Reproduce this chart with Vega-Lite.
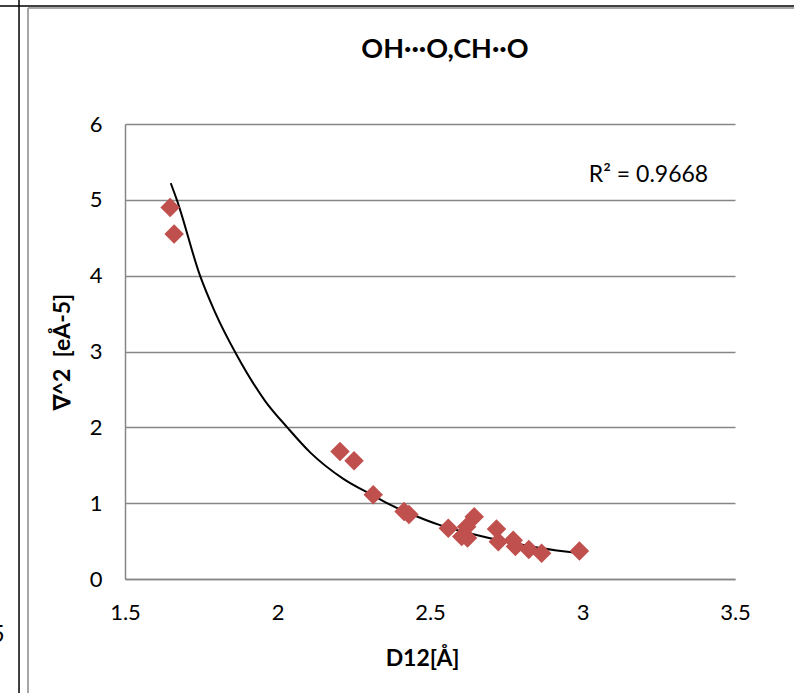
{
  "$schema": "https://vega.github.io/schema/vega-lite/v6.json",
  "width": 610,
  "height": 455,
  "autosize": {"type": "none"},
  "padding": {"left": 125, "top": 124, "right": 59, "bottom": 114},
  "background": "white",
  "config": {
    "view": {"stroke": null},
    "font": "Lato",
    "axis": {"labelFont": "Lato", "titleFont": "Lato"}
  },
  "datasets": {
    "points": [
      {"d": 1.648, "v": 4.90},
      {"d": 1.661, "v": 4.55},
      {"d": 2.205, "v": 1.68},
      {"d": 2.251, "v": 1.56},
      {"d": 2.314, "v": 1.11},
      {"d": 2.415, "v": 0.89},
      {"d": 2.431, "v": 0.85},
      {"d": 2.560, "v": 0.67},
      {"d": 2.604, "v": 0.56},
      {"d": 2.620, "v": 0.69},
      {"d": 2.623, "v": 0.54},
      {"d": 2.645, "v": 0.82},
      {"d": 2.718, "v": 0.66},
      {"d": 2.724, "v": 0.49},
      {"d": 2.773, "v": 0.51},
      {"d": 2.780, "v": 0.43},
      {"d": 2.824, "v": 0.39},
      {"d": 2.866, "v": 0.34},
      {"d": 2.990, "v": 0.37}
    ],
    "trend": [
      {"d": 1.650, "v": 5.22},
      {"d": 1.670, "v": 5.00},
      {"d": 1.746, "v": 4.00},
      {"d": 1.795, "v": 3.52},
      {"d": 1.864, "v": 2.97},
      {"d": 1.959, "v": 2.35},
      {"d": 2.034, "v": 1.99},
      {"d": 2.107, "v": 1.67},
      {"d": 2.216, "v": 1.32},
      {"d": 2.314, "v": 1.10},
      {"d": 2.374, "v": 0.97},
      {"d": 2.424, "v": 0.88},
      {"d": 2.533, "v": 0.71},
      {"d": 2.642, "v": 0.59},
      {"d": 2.751, "v": 0.49},
      {"d": 2.861, "v": 0.41},
      {"d": 2.992, "v": 0.34}
    ],
    "frame": [
      {"kind": "blackV", "a": 1.1525, "b": -1.51, "a2": 1.1525, "b2": 7.64},
      {"kind": "blackH", "a": 1.09, "b": 7.556, "a2": 3.70, "b2": 7.556},
      {"kind": "greyV", "a": 1.182, "b": -1.51, "a2": 1.182, "b2": 7.53},
      {"kind": "greyH", "a": 1.182, "b": 7.53, "a2": 3.70, "b2": 7.53}
    ],
    "notes": [
      {"label": "R² = 0.9668", "d": 3.2164, "v": 5.33},
      {"label": "5", "d": 1.083, "v": -0.74}
    ],
    "heading": [
      {"label": "OH···O,CH··O", "d": 2.549, "v": 6.871}
    ]
  },
  "layer": [
    {
      "data": {"name": "frame"},
      "transform": [{"filter": "datum.kind == 'greyV' || datum.kind == 'greyH'"}],
      "mark": {"type": "rule", "color": "#a6a6a6", "strokeWidth": 2},
      "encoding": {
        "x": {"field": "a", "type": "quantitative", "scale": {"domain": [1.5, 3.5], "nice": false, "zero": false}},
        "y": {"field": "b", "type": "quantitative", "scale": {"domain": [0, 6], "nice": false, "zero": false}},
        "x2": {"field": "a2"},
        "y2": {"field": "b2"}
      }
    },
    {
      "data": {"name": "frame"},
      "transform": [{"filter": "datum.kind == 'blackV' || datum.kind == 'blackH'"}],
      "mark": {"type": "rule", "color": "#000000", "strokeWidth": 1.5},
      "encoding": {
        "x": {"field": "a", "type": "quantitative"},
        "y": {"field": "b", "type": "quantitative"},
        "x2": {"field": "a2"},
        "y2": {"field": "b2"}
      }
    },
    {
      "data": {"name": "trend"},
      "mark": {"type": "line", "color": "#000000", "strokeWidth": 2, "interpolate": "monotone"},
      "encoding": {
        "x": {
          "field": "d", "type": "quantitative",
          "axis": {
            "title": "D12[Å]",
            "values": [1.5, 2, 2.5, 3, 3.5],
            "format": ".1~f",
            "grid": false,
            "ticks": false,
            "domain": true,
            "domainColor": "#868686",
            "domainWidth": 1.5,
            "labelFontSize": 22,
            "labelColor": "#000000",
            "labelPadding": 23,
            "labelFlush": false,
            "titleFontSize": 23,
            "titleFontWeight": "bold",
            "titleColor": "#000000",
            "titlePadding": 24,
            "titleX": 297
          }
        },
        "y": {
          "field": "v", "type": "quantitative",
          "axis": {
            "title": "∇^2\u00a0 [eÅ-5]",
            "values": [0, 1, 2, 3, 4, 5, 6],
            "format": "d",
            "grid": true,
            "gridColor": "#868686",
            "gridWidth": 1.5,
            "ticks": false,
            "domain": true,
            "domainColor": "#868686",
            "domainWidth": 1.5,
            "labelFontSize": 22,
            "labelColor": "#000000",
            "labelPadding": 23,
            "titleFontSize": 23,
            "titleFontWeight": "bold",
            "titleColor": "#000000",
            "titlePadding": 15
          }
        }
      }
    },
    {
      "data": {"name": "points"},
      "mark": {"type": "point", "shape": "diamond", "filled": true, "color": "#C0504D", "opacity": 1, "size": 380},
      "encoding": {
        "x": {"field": "d", "type": "quantitative"},
        "y": {"field": "v", "type": "quantitative"}
      }
    },
    {
      "data": {"name": "notes"},
      "mark": {"type": "text", "font": "Lato", "fontSize": 23, "color": "#000000", "align": "center", "baseline": "middle"},
      "encoding": {
        "x": {"field": "d", "type": "quantitative"},
        "y": {"field": "v", "type": "quantitative"},
        "text": {"field": "label"}
      }
    },
    {
      "data": {"name": "heading"},
      "mark": {"type": "text", "font": "Lato", "fontSize": 27, "fontWeight": "bold", "color": "#000000", "align": "center", "baseline": "alphabetic"},
      "encoding": {
        "x": {"field": "d", "type": "quantitative"},
        "y": {"field": "v", "type": "quantitative"},
        "text": {"field": "label"}
      }
    }
  ]
}
